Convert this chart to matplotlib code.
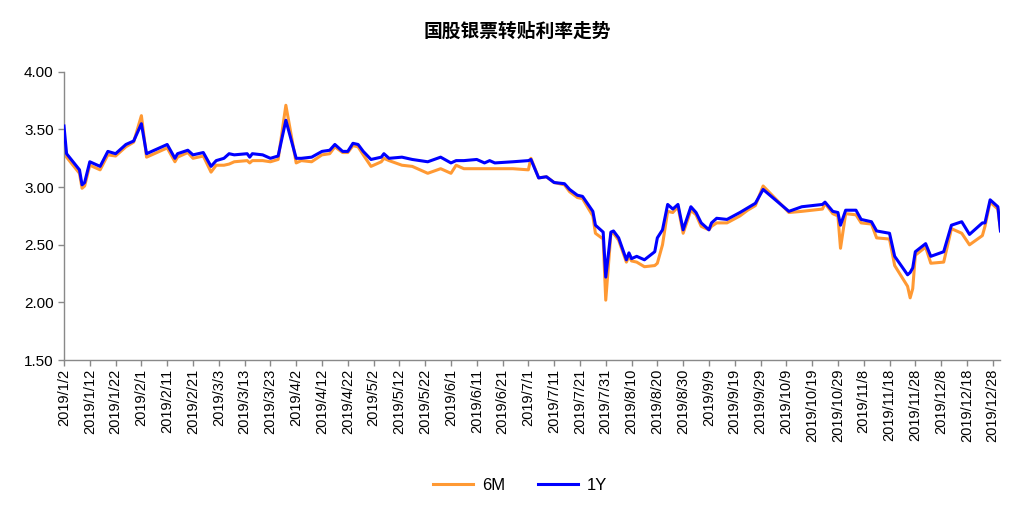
import matplotlib
matplotlib.use("Agg")
import matplotlib.pyplot as plt
import matplotlib.dates as mdates
import pandas as pd

plt.rcParams['font.family'] = ['Liberation Sans', 'Noto Sans CJK SC', 'DejaVu Sans']

dates = ["2019-01-02","2019-01-03","2019-01-08","2019-01-09","2019-01-10","2019-01-12","2019-01-16",
         "2019-01-19","2019-01-22","2019-01-26","2019-01-29","2019-02-01","2019-02-03","2019-02-11",
         "2019-02-14","2019-02-15","2019-02-19","2019-02-21","2019-02-25","2019-02-28","2019-03-02",
         "2019-03-05","2019-03-07","2019-03-09","2019-03-14","2019-03-15","2019-03-16","2019-03-20",
         "2019-03-23","2019-03-26","2019-03-29","2019-04-02","2019-04-04","2019-04-08","2019-04-12",
         "2019-04-15","2019-04-17","2019-04-20","2019-04-22","2019-04-24","2019-04-26","2019-04-28",
         "2019-05-01","2019-05-05","2019-05-06","2019-05-08","2019-05-13","2019-05-17","2019-05-23",
         "2019-05-28","2019-06-01","2019-06-03","2019-06-06","2019-06-11","2019-06-14","2019-06-16",
         "2019-06-18","2019-06-25","2019-07-01","2019-07-02","2019-07-05","2019-07-08","2019-07-11",
         "2019-07-15","2019-07-17","2019-07-20","2019-07-22","2019-07-26","2019-07-27","2019-07-30",
         "2019-07-31","2019-08-02","2019-08-03","2019-08-05","2019-08-08","2019-08-09","2019-08-10",
         "2019-08-12","2019-08-15","2019-08-19","2019-08-20","2019-08-22","2019-08-24","2019-08-26",
         "2019-08-28","2019-08-30","2019-09-02","2019-09-04","2019-09-06","2019-09-09","2019-09-10",
         "2019-09-12","2019-09-16","2019-09-21","2019-09-24","2019-09-27","2019-09-30","2019-10-10",
         "2019-10-15","2019-10-23","2019-10-24","2019-10-27","2019-10-29","2019-10-30","2019-11-01",
         "2019-11-05","2019-11-07","2019-11-11","2019-11-13","2019-11-18","2019-11-20","2019-11-25",
         "2019-11-26","2019-11-27","2019-11-28","2019-12-02","2019-12-04","2019-12-09","2019-12-12",
         "2019-12-16","2019-12-19","2019-12-24","2019-12-25","2019-12-27","2019-12-30","2019-12-31"]

rate_6m = [3.30,3.26,3.12,2.99,3.01,3.19,3.15,3.28,3.27,3.35,3.39,3.62,3.26,3.34,
           3.22,3.26,3.30,3.25,3.27,3.13,3.19,3.19,3.20,3.22,3.23,3.21,3.23,3.23,
           3.22,3.24,3.71,3.21,3.23,3.22,3.28,3.29,3.35,3.30,3.30,3.36,3.35,3.28,
           3.18,3.22,3.25,3.23,3.19,3.18,3.12,3.16,3.12,3.19,3.16,3.16,3.16,3.16,
           3.16,3.16,3.15,3.25,3.08,3.09,3.04,3.02,2.96,2.91,2.90,2.75,2.60,2.55,
           2.02,2.60,2.60,2.54,2.35,2.40,2.36,2.35,2.31,2.32,2.34,2.50,2.79,2.78,
           2.83,2.60,2.80,2.76,2.66,2.63,2.66,2.69,2.69,2.75,2.80,2.84,3.01,2.78,
           2.79,2.81,2.86,2.77,2.75,2.47,2.77,2.76,2.69,2.68,2.56,2.55,2.32,2.14,
           2.04,2.12,2.41,2.48,2.34,2.35,2.64,2.60,2.50,2.58,2.66,2.87,2.81,2.63]

rate_1y = [3.53,3.29,3.15,3.02,3.04,3.22,3.18,3.31,3.29,3.37,3.40,3.55,3.29,3.37,
           3.25,3.29,3.32,3.28,3.30,3.18,3.23,3.25,3.29,3.28,3.29,3.26,3.29,3.28,
           3.25,3.27,3.58,3.25,3.25,3.26,3.31,3.32,3.37,3.31,3.31,3.38,3.37,3.31,
           3.24,3.26,3.29,3.25,3.26,3.24,3.22,3.26,3.21,3.23,3.23,3.24,3.21,3.23,
           3.21,3.22,3.23,3.24,3.08,3.09,3.04,3.03,2.98,2.93,2.92,2.79,2.67,2.61,
           2.22,2.61,2.62,2.56,2.37,2.43,2.38,2.40,2.37,2.44,2.56,2.63,2.85,2.81,
           2.85,2.63,2.83,2.78,2.69,2.63,2.69,2.73,2.72,2.78,2.82,2.86,2.98,2.79,
           2.83,2.85,2.87,2.79,2.78,2.67,2.80,2.80,2.72,2.70,2.62,2.60,2.40,2.24,
           2.26,2.30,2.44,2.51,2.40,2.44,2.67,2.70,2.59,2.69,2.69,2.89,2.83,2.62]

title = "国股银票转贴利率走势"
series_names = ["6M", "1Y"]
y_ticks = [1.50, 2.00, 2.50, 3.00, 3.50, 4.00]

x = pd.to_datetime(dates)
tick_dates = pd.date_range("2019-01-02", "2019-12-31", freq="10D")

fig = plt.figure(figsize=(10.24, 5.13), dpi=100)
ax = fig.add_axes([0.0625, 0.298, 0.9145, 0.562])

ax.plot(x, rate_6m, color="#FF9933", lw=2.2, label=series_names[0], zorder=2)
ax.plot(x, rate_1y, color="#0000FF", lw=2.2, label=series_names[1], zorder=3)

ax.set_ylim(1.5, 4.0)
ax.set_yticks(y_ticks)
ax.set_yticklabels([f"{v:.2f}" for v in y_ticks], fontsize=11)
ax.set_xlim(pd.Timestamp("2019-01-02"), pd.Timestamp("2019-12-31"))
ax.set_xticks(tick_dates)
ax.set_xticklabels([f"{d.year}/{d.month}/{d.day}" for d in tick_dates], rotation=90, fontsize=10.5)

for s in ["top", "right"]:
    ax.spines[s].set_visible(False)
for s in ["left", "bottom"]:
    ax.spines[s].set_color("#898989")
    ax.spines[s].set_linewidth(1.0)
ax.tick_params(axis="both", colors="#898989", labelcolor="#000000", length=4, width=1, direction="out")
ax.tick_params(axis="x", pad=2)

fig.text(0.505, 0.94, title, ha="center", va="center", fontsize=13.5, fontweight="bold",
         family=["Noto Sans CJK SC", "DejaVu Sans"])

fig.legend(loc="center", bbox_to_anchor=(0.508, 0.053), ncol=2, frameon=False, fontsize=12,
           handlelength=2.4, handletextpad=0.5, columnspacing=2.0)

fig.savefig("out.png", dpi=100)
